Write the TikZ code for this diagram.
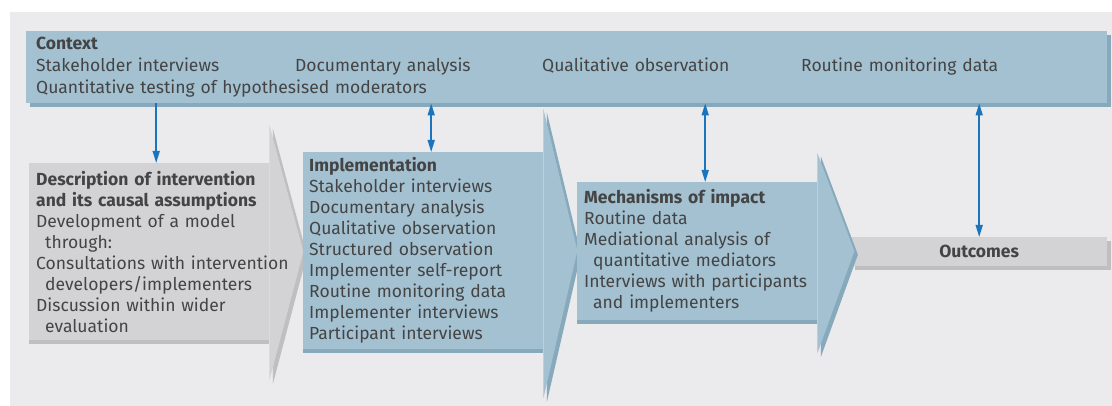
\documentclass[tikz,border=0pt]{standalone}
\usepackage{fontspec}
\setmainfont{Fira Sans}
\usepackage{xcolor}
\usepackage{tikz}
\usetikzlibrary{arrows.meta, positioning, calc, shadows}

\definecolor{panelgray}{HTML}{EBEBED}
\definecolor{boxblue}{HTML}{A3C1D1}
\definecolor{blueshade}{HTML}{86A9BC}
\definecolor{boxgray}{HTML}{D3D3D5}
\definecolor{grayshade}{HTML}{BFBFC1}
\definecolor{linkblue}{HTML}{1B75BC}
\definecolor{textgray}{HTML}{444444}

\hyphenpenalty=10000

\pgfdeclarelayer{bottom}
\pgfdeclarelayer{heads}
\pgfsetlayers{bottom,heads,main}

\begin{document}
\begin{tikzpicture}[
    x=1pt, y=-1pt,
    block/.style={rectangle, anchor=north west, inner ysep=0pt, align=left, text=textgray, font=\fontsize{17.5}{21}\selectfont},
    blueshadow/.style={drop shadow={shadow xshift=3.5pt, shadow yshift=-3.5pt, fill=blueshade, opacity=1}},
    grayshadow/.style={drop shadow={shadow xshift=3.5pt, shadow yshift=-3.5pt, fill=grayshade, opacity=1}},
    bluebox/.style={block, fill=boxblue, blueshadow},
    graybox/.style={block, fill=boxgray, grayshadow},
    % chevron bodies: shadow only below, the head hides the right side
    bluebody/.style={block, fill=boxblue, drop shadow={shadow xshift=0pt, shadow yshift=-3.5pt, fill=blueshade, opacity=1}},
    graybody/.style={block, fill=boxgray, drop shadow={shadow xshift=0pt, shadow yshift=-3.5pt, fill=grayshade, opacity=1}},
    bluehead/.style={fill=boxblue, blueshadow},
    grayhead/.style={fill=boxgray, grayshadow},
    oneway/.style={draw=linkblue, line width=1.5pt, -{Triangle[length=12pt, width=7pt]}},
    twoway/.style={oneway, {Triangle[length=12pt, width=7pt]}-{Triangle[length=12pt, width=7pt]}},
]

% Canvas and outcomes box
\begin{pgfonlayer}{bottom}
\useasboundingbox (0,0) rectangle (1112,406);
\fill[panelgray] (10,12) rectangle (1112,406);
\node[graybox, inner xsep=10pt, text width=236pt, minimum height=29pt, align=center] (outc) at (851,237)
    {\textbf{Outcomes}};
\end{pgfonlayer}

% Context bar
\node[bluebox, inner xsep=10pt, text width=1061pt, minimum height=72pt, font=\fontsize{17.5}{22}\selectfont] (ctx) at (26,31)
    {\textbf{Context}\\
     \makebox[259pt][l]{Stakeholder interviews}\makebox[247pt][l]{Documentary analysis}\makebox[259pt][l]{Qualitative observation}Routine monitoring data\\
     Quantitative testing of hypothesised moderators};

% Description of intervention
\node[graybody, inner xsep=7pt, text width=226pt, minimum height=177pt] (desc) at (29,163)
    {\textbf{Description of intervention}\\
     \textbf{and its causal assumptions}\\
     Development of a model\\
     \hspace*{9pt}through:\\
     \mbox{Consultations with intervention}\\
     \hspace*{9pt}developers/implementers\\
     Discussion within wider\\
     \hspace*{9pt}evaluation};

% Implementation
\node[bluebody, inner xsep=6pt, text width=228pt, minimum height=197pt] (impl) at (303,152)
    {\textbf{Implementation}\\
     Stakeholder interviews\\
     Documentary analysis\\
     Qualitative observation\\
     Structured observation\\
     Implementer self-report\\
     Routine monitoring data\\
     Implementer interviews\\
     Participant interviews};

% Mechanisms of impact
\node[bluebody, inner xsep=7pt, text width=226pt, minimum height=138pt] (mech) at (577,182)
    {\textbf{Mechanisms of impact}\\
     Routine data\\
     Mediational analysis of\\
     \hspace*{9pt}quantitative mediators\\
     Interviews with participants\\
     \hspace*{9pt}and implementers};

% Arrow heads, kept under the text
\begin{pgfonlayer}{heads}
\fill[grayhead] (desc.north east) -- ++(0,-38) -- ($(desc.east)+(34,0)$) -- ($(desc.south east)+(0,40)$) -- (desc.south east) -- cycle;
\fill[bluehead] (impl.north east) -- ++(0,-43) -- ($(impl.east)+(34,0)$) -- ($(impl.south east)+(0,49)$) -- (impl.south east) -- cycle;
\fill[bluehead] (mech.north east) -- ++(0,-29) -- ($(mech.east)+(37,0)$) -- ($(mech.south east)+(0,33)$) -- (mech.south east) -- cycle;
\end{pgfonlayer}

% Links to the context bar
\coordinate (descin) at ($(desc.north)+(7,0)$);
\coordinate (implin) at ($(impl.north)+(8,0)$);
\coordinate (mechin) at ($(mech.north)+(8,0)$);
\draw[oneway] (descin |- ctx.south) -- (descin);
\draw[twoway] (implin |- ctx.south) -- (implin);
\draw[twoway] (mechin |- ctx.south) -- (mechin);
\draw[twoway] (ctx.south -| outc.north) -- (outc.north);

\end{tikzpicture}
\end{document}
